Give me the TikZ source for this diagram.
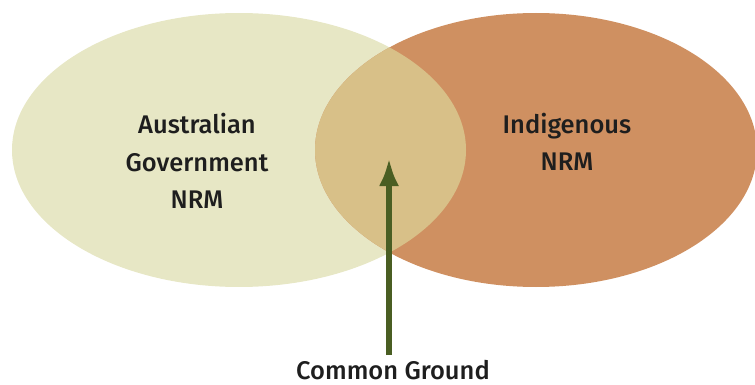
\documentclass[tikz,border=0pt]{standalone}
\usepackage{fontspec}
\setmainfont{Fira Sans}[UprightFont=* Medium]
\usetikzlibrary{arrows.meta}
\definecolor{leftc}{HTML}{E7E7C5}
\definecolor{rightc}{HTML}{CF9061}
\definecolor{midc}{HTML}{D8C088}
\definecolor{arrowc}{HTML}{4A5E23}
\definecolor{txt}{HTML}{1E1E1E}
\begin{document}
\begin{tikzpicture}[x=1pt,y=-1pt,
  lbl/.style={text=txt,font=\fontsize{25.5}{37.5}\selectfont,align=center,inner sep=0pt}]
\useasboundingbox (0,0) rectangle (755,385);
\fill[leftc] (239,150) ellipse [x radius=227, y radius=137];
\fill[rightc] (536,150) ellipse [x radius=221, y radius=137];
\begin{scope}
\clip (239,150) ellipse [x radius=227, y radius=137];
\fill[midc] (536,150) ellipse [x radius=221, y radius=137];
\end{scope}
\node[lbl] (agov) at (197,161) {Australian\\Government\\NRM};
\node[lbl] (ind) at (567,142) {Indigenous\\NRM};
\node[lbl,anchor=base,text depth=0pt] (cg) at (393,379) {Common Ground};
\coordinate (tip) at (389,158);
\coordinate (base) at (389,355);
\draw[arrowc,line width=6pt,-{Latex[length=28pt,width=20pt]}] (base) -- (tip);
\end{tikzpicture}
\end{document}
